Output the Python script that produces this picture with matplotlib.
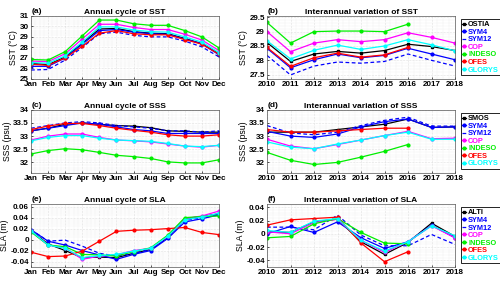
import matplotlib
matplotlib.use("Agg")
import matplotlib.pyplot as plt
from matplotlib.ticker import MultipleLocator, FormatStrFormatter

plt.rcParams['font.family'] = ['Liberation Sans', 'DejaVu Sans']
plt.rcParams['font.weight'] = 'bold'
plt.rcParams['font.size'] = 6

months = ["Jan", "Feb", "Mar", "Apr", "May", "Jun", "Jul", "Aug", "Sep", "Oct", "Nov", "Dec"]
months_fr = ["Jan", "Feb", "Mar", "Avr", "May", "Jun", "Jul", "Aug", "Sep", "Oct", "Nov", "Dec"]
years = [2010, 2011, 2012, 2013, 2014, 2015, 2016, 2017, 2018]

# (a) annual cycle of SST
sst_ref_m = [26.5, 26.35, 27.1, 28.4, 29.75, 29.8, 29.5, 29.35, 29.3, 28.85, 28.35, 27.4]
sst_sym4_m = [26.2, 26.2, 27.0, 28.3, 29.6, 29.7, 29.45, 29.3, 29.25, 28.8, 28.35, 27.3]
sst_sym12_m = [25.85, 25.9, 26.8, 28.0, 29.3, 29.45, 29.15, 29.0, 29.0, 28.6, 28.05, 27.1]
sst_cop_m = [26.7, 26.65, 27.4, 28.8, 30.2, 30.2, 29.9, 29.7, 29.7, 29.25, 28.7, 27.7]
sst_indeso_m = [26.85, 26.8, 27.6, 29.1, 30.6, 30.6, 30.25, 30.1, 30.1, 29.6, 29.0, 27.95]
sst_ofes_m = [26.4, 26.3, 27.0, 28.1, 29.35, 29.6, 29.3, 29.2, 29.2, 28.75, 28.3, 27.35]
sst_glorys_m = [26.55, 26.5, 27.2, 28.5, 29.95, 29.95, 29.65, 29.5, 29.45, 29.0, 28.5, 27.5]

# (b) interannual SST
sst_ref_y = [28.62, 27.96, 28.22, 28.31, 28.25, 28.34, 28.56, 28.48, 28.34]
sst_sym4_y = [28.42, 27.74, 28.02, 28.22, 28.09, 28.17, 28.42, 28.22, 28.02]
sst_sym12_y = [28.17, 27.49, 27.8, 27.94, 27.9, 27.96, 28.22, 28.0, 27.8]
sst_cop_y = [29.0, 28.3, 28.6, 28.72, 28.65, 28.72, 28.96, 28.8, 28.6]
sst_indeso_y = [29.32, 28.6, 29.0, 29.02, 29.02, 29.0, 29.26]
sst_ofes_y = [28.45, 27.79, 28.09, 28.25, 28.11, 28.19, 28.45]
sst_glorys_y = [28.68, 28.05, 28.35, 28.53, 28.38, 28.5, 28.72, 28.54, 28.33]

# (c) annual cycle of SSS
sss_ref_m = [33.2, 33.3, 33.45, 33.5, 33.45, 33.4, 33.38, 33.32, 33.2, 33.18, 33.15, 33.15]
sss_sym4_m = [33.2, 33.3, 33.4, 33.5, 33.45, 33.35, 33.25, 33.2, 33.1, 33.1, 33.1, 33.1]
sss_sym12_m = [33.3, 33.4, 33.5, 33.55, 33.5, 33.4, 33.35, 33.3, 33.2, 33.2, 33.15, 33.2]
sss_cop_m = [32.85, 33.0, 33.08, 33.08, 32.95, 32.85, 32.82, 32.78, 32.7, 32.62, 32.58, 32.65]
sss_indeso_m = [32.32, 32.45, 32.52, 32.48, 32.38, 32.27, 32.22, 32.15, 32.02, 31.98, 31.98, 32.1]
sss_ofes_m = [33.25, 33.38, 33.48, 33.48, 33.4, 33.3, 33.22, 33.15, 33.05, 33.0, 33.0, 33.05]
sss_glorys_m = [32.82, 32.95, 33.02, 33.02, 32.92, 32.85, 32.83, 32.8, 32.72, 32.62, 32.6, 32.65]

# (d) interannual SSS
sss_ref_y = [33.15, 33.15, 33.15, 33.25, 33.35, 33.45, 33.65, 33.33, 33.35]
sss_sym4_y = [33.18, 33.0, 32.95, 33.08, 33.35, 33.55, 33.65, 33.33, 33.35]
sss_sym12_y = [33.4, 33.12, 33.05, 33.15, 33.4, 33.6, 33.72, 33.38, 33.38]
sss_cop_y = [32.88, 32.62, 32.52, 32.68, 32.85, 33.02, 33.18, 32.9, 32.92]
sss_indeso_y = [32.38, 32.08, 31.92, 32.0, 32.2, 32.42, 32.68]
sss_ofes_y = [33.25, 33.15, 33.15, 33.2, 33.25, 33.3, 33.3]
sss_glorys_y = [32.78, 32.58, 32.52, 32.7, 32.85, 33.02, 33.15, 32.88, 32.88]

# (e) annual cycle of SLA
sla_ref_m = [0.016, -0.008, -0.02, -0.033, -0.032, -0.033, -0.025, -0.018, 0.004, 0.038, 0.042, 0.047]
sla_sym4_m = [0.018, -0.003, -0.01, -0.02, -0.028, -0.036, -0.027, -0.02, 0.002, 0.032, 0.038, 0.045]
sla_sym12_m = [0.018, -0.003, -0.001, -0.012, -0.025, -0.03, -0.025, -0.018, 0.003, 0.035, 0.04, 0.046]
sla_cop_m = [0.015, -0.01, -0.015, -0.036, -0.03, -0.028, -0.02, -0.016, 0.006, 0.038, 0.043, 0.052]
sla_indeso_m = [0.014, -0.01, -0.013, -0.027, -0.028, -0.03, -0.022, -0.015, 0.008, 0.04, 0.042, 0.043]
sla_ofes_m = [-0.023, -0.031, -0.03, -0.021, -0.003, 0.015, 0.017, 0.018, 0.02, 0.022, 0.013, 0.009]
sla_glorys_m = [0.016, -0.01, -0.016, -0.033, -0.029, -0.027, -0.021, -0.016, 0.006, 0.036, 0.041, 0.048]

# (f) interannual SLA
sla_ref_y = [0.003, 0.002, 0.018, 0.022, -0.012, -0.031, -0.013, 0.016, -0.004]
sla_sym4_y = [0.0, 0.011, 0.002, 0.018, -0.006, -0.022, -0.012, 0.013, -0.006]
sla_sym12_y = [0.01, 0.01, 0.006, 0.028, -0.002, -0.018, -0.018, -0.001, -0.016]
sla_cop_y = [0.003, 0.0, 0.017, 0.022, -0.01, -0.028, -0.012, 0.012, -0.006]
sla_indeso_y = [-0.006, -0.004, 0.015, 0.023, 0.002, -0.014, -0.015]
sla_ofes_y = [0.013, 0.021, 0.023, 0.025, -0.014, -0.042, -0.027]
sla_glorys_y = [0.005, 0.002, 0.019, 0.023, -0.01, -0.026, -0.012, 0.012, -0.003]

names = ["REF", "SYM4", "SYM12", "COP", "INDESO", "OFES", "GLORYS"]
colors = ["black", "blue", "blue", "magenta", "#00ee00", "red", "cyan"]
styles = ["-", "-", "--", "-", "-", "-", "-"]
marks = ["s", "o", "", "o", "o", "o", "o"]

fig = plt.figure(figsize=(5, 2.83), dpi=100)
lefts = [0.062, 0.534]
bottoms = [0.721, 0.389, 0.0565]
w, h = 0.376, 0.223


def style_axis(ax, xmin, xmax, ymin, ymax, ymaj, ystep):
    ax.set_xlim(xmin, xmax)
    ax.set_ylim(ymin, ymax)
    ax.yaxis.set_major_locator(MultipleLocator(ymaj))
    ax.yaxis.set_minor_locator(MultipleLocator(ystep))
    ax.xaxis.set_minor_locator(MultipleLocator(0.25))
    ax.yaxis.set_major_formatter(FormatStrFormatter('%g'))
    ax.grid(True, which='major', color='#c8c8c8', lw=0.4, ls=':')
    ax.grid(True, which='minor', color='#dcdcdc', lw=0.3, ls=':')
    ax.tick_params(which='both', direction='in', length=1.5, width=0.5, pad=1.5, labelsize=5.8)
    ax.tick_params(which='minor', length=0)
    for s in ax.spines.values():
        s.set_linewidth(0.5)
        s.set_color('#555555')


def draw(ax, x, series, ref_name=None):
    for i, ys in enumerate(series):
        xs = x[:len(ys)]
        label = ref_name if i == 0 else names[i]
        ax.plot(xs, ys, color=colors[i], ls=styles[i], lw=0.9,
                marker=marks[i] if marks[i] else None, ms=2,
                dashes=(3, 2) if styles[i] == "--" else (None, None),
                label=label)


panels = [
    ("(a)", "Annual cycle of SST", "SST (°C)",
     [sst_ref_m, sst_sym4_m, sst_sym12_m, sst_cop_m, sst_indeso_m, sst_ofes_m, sst_glorys_m],
     (25, 31, 1, 0.2), None),
    ("(b)", "Interannual variation of SST", "SST (°C)",
     [sst_ref_y, sst_sym4_y, sst_sym12_y, sst_cop_y, sst_indeso_y, sst_ofes_y, sst_glorys_y],
     (27.35, 29.55, 0.5, 0.1), "OSTIA"),
    ("(c)", "Annual cycle of SSS", "SSS (psu)",
     [sss_ref_m, sss_sym4_m, sss_sym12_m, sss_cop_m, sss_indeso_m, sss_ofes_m, sss_glorys_m],
     (31.6, 34.0, 0.5, 0.1), None),
    ("(d)", "Interannual variation of SSS", "SSS (psu)",
     [sss_ref_y, sss_sym4_y, sss_sym12_y, sss_cop_y, sss_indeso_y, sss_ofes_y, sss_glorys_y],
     (31.6, 34.0, 0.5, 0.1), "SMOS"),
    ("(e)", "Annual cycle of SLA", "SLA (m)",
     [sla_ref_m, sla_sym4_m, sla_sym12_m, sla_cop_m, sla_indeso_m, sla_ofes_m, sla_glorys_m],
     (-0.05, 0.065, 0.02, 0.004), None),
    ("(f)", "Interannual variation of SLA", "SLA (m)",
     [sla_ref_y, sla_sym4_y, sla_sym12_y, sla_cop_y, sla_indeso_y, sla_ofes_y, sla_glorys_y],
     (-0.05, 0.045, 0.02, 0.004), "ALTI"),
]

for k, (tag, title, ylab, series, lims, ref_name) in enumerate(panels):
    row, col = k // 2, k % 2
    ax = fig.add_axes([lefts[col], bottoms[row], w, h])
    ymin, ymax, ymaj, ystep = lims
    if col == 0:
        x = list(range(1, 13))
        draw(ax, x, series)
        style_axis(ax, 1, 12, ymin, ymax, ymaj, ystep)
        ax.set_xticks(x)
        ax.set_xticklabels(months_fr if row == 2 else months)
    else:
        draw(ax, years, series, ref_name)
        style_axis(ax, 2010, 2018, ymin, ymax, ymaj, ystep)
        ax.set_xticks(years)
        leg = ax.legend(loc='center left', bbox_to_anchor=(1.03, 0.5), fontsize=5.3,
                        handlelength=0.5, handletextpad=0.25, labelspacing=0.05,
                        borderpad=0.25, borderaxespad=0, fancybox=False,
                        edgecolor='black', framealpha=1, markerscale=1.0)
        leg.get_frame().set_linewidth(0.6)
        for txt, c in zip(leg.get_texts(), colors):
            txt.set_color(c)
            txt.set_fontweight('bold')
    ax.set_ylabel(ylab, fontsize=6.3, labelpad=1)
    ax.set_title(title, fontsize=6, fontweight='bold', pad=1.5)
    ax.text(0.005, 1.01, tag, transform=ax.transAxes, fontsize=6,
            fontweight='bold', ha='left', va='bottom')

fig.savefig("out.png", dpi=100)
